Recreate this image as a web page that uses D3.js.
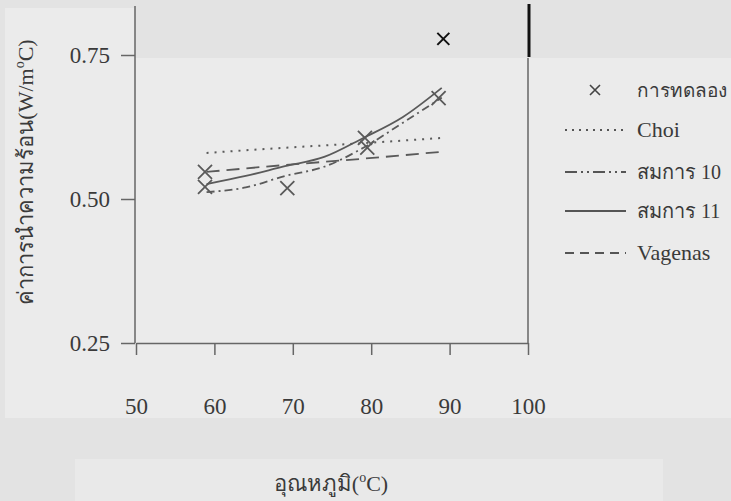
<!DOCTYPE html>
<html>
<head>
<meta charset="utf-8">
<script src="https://cdn.jsdelivr.net/npm/d3@7"></script>
<style>
body { margin: 0; background: #e3e3e3; }
svg { display: block; }
text { font-family: "Liberation Serif", "DejaVu Serif", serif; fill: #3a3a3a; }
</style>
</head>
<body>
<div id="chart-area"></div>
<script>
// ค่าที่อ่านจากกราฟ
var xTicks = [50, 60, 70, 80, 90, 100];
var yTicks = [0.25, 0.50, 0.75];

var expTemp = [58.8, 58.8, 69.3, 79.2, 79.5, 88.6];
var expValue = [0.547, 0.521, 0.519, 0.606, 0.589, 0.675];
var extraTemp = [89.2];
var extraValue = [0.778];

var choiTemp = [59, 69, 79, 89];
var choiValue = [0.580, 0.589, 0.597, 0.606];

var vagTemp = [59, 69, 79, 89];
var vagValue = [0.547, 0.559, 0.570, 0.582];

var curveTemp = [59, 64, 69, 74, 79, 84, 89];
var eq10Value = [0.512, 0.520, 0.540, 0.556, 0.589, 0.632, 0.676];
var eq11Value = [0.526, 0.540, 0.557, 0.573, 0.606, 0.642, 0.693];

var legendNames = ["การทดลอง", "Choi", "สมการ 10", "สมการ 11", "Vagenas"];

var width = 731;
var height = 501;

var svg = d3.select("#chart-area").append("svg")
    .attr("width", width)
    .attr("height", height);

// พื้นหลังสแกน
svg.append("rect").attr("x", 5).attr("y", 58).attr("width", 726).attr("height", 360).attr("fill", "#ebebeb");
svg.append("rect").attr("x", 5).attr("y", 8).attr("width", 130).attr("height", 52).attr("fill", "#ebebeb");
svg.append("rect").attr("x", 75).attr("y", 459).attr("width", 588).attr("height", 42).attr("fill", "#e9e9e9");

var x = d3.scaleLinear().domain([50, 100]).range([136, 528]);
var y = d3.scaleLinear().domain([0.25, 0.75]).range([343, 55]);

var lineColor = "#5a5a5a";

// frame
svg.append("line").attr("x1", 135).attr("x2", 135).attr("y1", 6).attr("y2", 343)
    .attr("stroke", "#666").attr("stroke-width", 1.5);
svg.append("line").attr("x1", 528).attr("x2", 528).attr("y1", 58).attr("y2", 343)
    .attr("stroke", "#666").attr("stroke-width", 1.5);
svg.append("line").attr("x1", 529).attr("x2", 529).attr("y1", 4).attr("y2", 57)
    .attr("stroke", "#111").attr("stroke-width", 3);

var bottomAxis = d3.axisBottom(x).tickValues(xTicks).tickSize(12).tickSizeOuter(0);
var gx = svg.append("g")
    .attr("transform", "translate(0, 343)")
    .call(bottomAxis);
gx.select(".domain").attr("stroke", "#666").attr("stroke-width", 1.5);
gx.selectAll(".tick line").attr("stroke", "#666").attr("stroke-width", 1.5);
gx.selectAll(".tick text")
    .attr("y", 55)
    .style("font-size", "23px")
    .style("font-family", "'Liberation Serif', serif")
    .style("fill", "#3a3a3a");

var leftAxis = d3.axisLeft(y).tickValues(yTicks).tickSize(14).tickPadding(11)
    .tickFormat(d3.format(".2f"));
var gy = svg.append("g")
    .attr("transform", "translate(135, 0)")
    .call(leftAxis);
gy.select(".domain").remove();
gy.selectAll(".tick line").attr("stroke", "#666").attr("stroke-width", 1.5);
gy.selectAll(".tick text")
    .style("font-size", "23px")
    .style("font-family", "'Liberation Serif', serif")
    .style("fill", "#3a3a3a");

// เส้น
var lineOf = function(temps) {
    return d3.line()
        .x(function(d, i) { return x(temps[i]); })
        .y(function(d) { return y(d); })
        .curve(d3.curveMonotoneX);
};

svg.append("path").datum(choiValue)
    .attr("d", lineOf(choiTemp))
    .attr("fill", "none").attr("stroke", lineColor).attr("stroke-width", 2)
    .attr("stroke-dasharray", "2,6");

svg.append("path").datum(vagValue)
    .attr("d", lineOf(vagTemp))
    .attr("fill", "none").attr("stroke", lineColor).attr("stroke-width", 1.8)
    .attr("stroke-dasharray", "13,7");

svg.append("path").datum(eq10Value)
    .attr("d", lineOf(curveTemp))
    .attr("fill", "none").attr("stroke", lineColor).attr("stroke-width", 1.8)
    .attr("stroke-dasharray", "8,4,2,4");

svg.append("path").datum(eq11Value)
    .attr("d", lineOf(curveTemp))
    .attr("fill", "none").attr("stroke", lineColor).attr("stroke-width", 1.8);

// จุดทดลอง
var cross = function(g, cx, cy, r, color, w) {
    g.append("path")
        .attr("d", "M" + (cx - r) + "," + (cy - r) + "L" + (cx + r) + "," + (cy + r) +
            "M" + (cx - r) + "," + (cy + r) + "L" + (cx + r) + "," + (cy - r))
        .attr("stroke", color).attr("stroke-width", w).attr("fill", "none");
};

expValue.forEach(function(v, i) {
    cross(svg, x(expTemp[i]), y(v), 7, lineColor, 1.8);
});
extraValue.forEach(function(v, i) {
    cross(svg, x(extraTemp[i]), y(v), 6, "#111", 2);
});

// Y Label
var yl = svg.append("text")
    .attr("transform", "translate(33, 172) rotate(-90)")
    .attr("text-anchor", "middle")
    .attr("font-size", "22px");
yl.append("tspan").text("ค่าการนำความร้อน(W/m");
yl.append("tspan").attr("font-size", "14px").attr("dy", -9).text("o");
yl.append("tspan").attr("dy", 9).text("C)");

// X Label
var xl = svg.append("text")
    .attr("x", 331)
    .attr("y", 491)
    .attr("text-anchor", "middle")
    .attr("font-size", "22px");
xl.append("tspan").text("อุณหภูมิ(");
xl.append("tspan").attr("font-size", "14px").attr("dy", -9).text("o");
xl.append("tspan").attr("dy", 9).text("C)");

// Legend
var legendY = [90, 130, 172, 211, 253];
var legendDash = [null, "2,5", "12,4,2,4,2,4", null, "9,6"];
var legendSize = [19, 22, 20, 20, 22];
var lg = svg.append("g");
legendNames.forEach(function(name, i) {
    if (i === 0) {
        cross(lg, 595, legendY[i], 5, "#444", 1.6);
    } else {
        lg.append("line")
            .attr("x1", 565).attr("x2", 626)
            .attr("y1", legendY[i]).attr("y2", legendY[i])
            .attr("stroke", "#555").attr("stroke-width", 1.8)
            .attr("stroke-dasharray", legendDash[i]);
    }
    lg.append("text")
        .attr("x", 637)
        .attr("y", legendY[i] + 7)
        .attr("font-size", legendSize[i] + "px")
        .text(name);
});
</script>
</body>
</html>
